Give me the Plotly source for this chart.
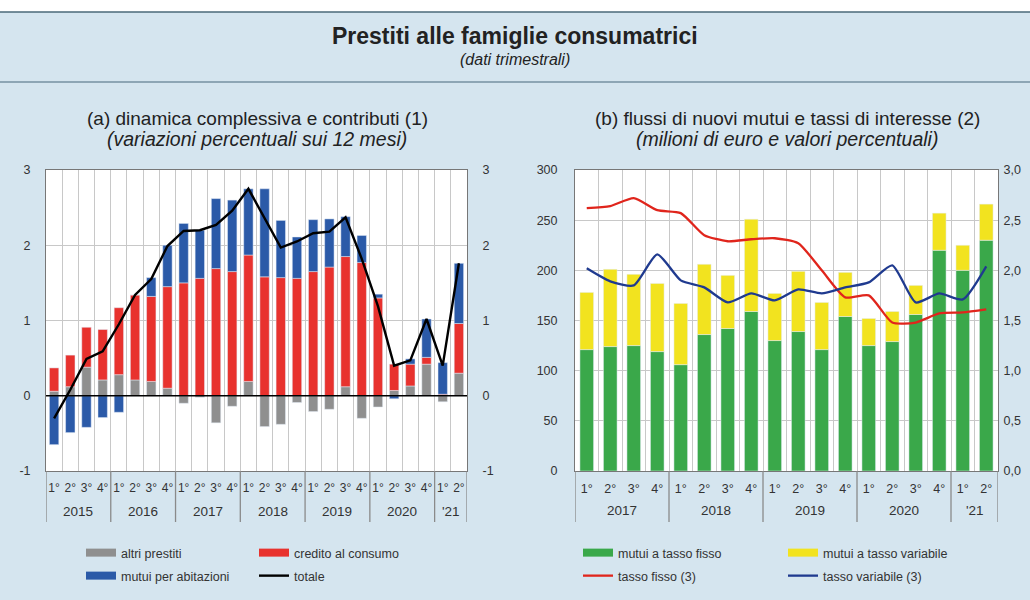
import plotly.graph_objects as go

# ---------------- data: panel (a) ----------------
years_a = ["2015", "2016", "2017", "2018", "2019", "2020", "'21"]
nq_a = [4, 4, 4, 4, 4, 4, 2]
quarter_labels = ["1°", "2°", "3°", "4°"]
ytick_vals_a = [-1, 0, 1, 2, 3]
ytick_text_a = ["-1", "0", "1", "2", "3"]

altri_prestiti = [0.06, 0.12, 0.38, 0.21, 0.28, 0.21, 0.19, 0.10, -0.10, -0.02, -0.36, -0.14, 0.19,
                  -0.41, -0.38, -0.09, -0.21, -0.18, 0.12, -0.30, -0.15, 0.07, 0.13, 0.42, -0.08, 0.30]
credito_consumo = [0.31, 0.42, 0.53, 0.67, 0.89, 1.13, 1.13, 1.35, 1.50, 1.56, 1.69, 1.65, 1.68,
                   1.58, 1.57, 1.56, 1.65, 1.71, 1.73, 1.77, 1.30, 0.35, 0.29, 0.09, 0.02, 0.66]
mutui_abitazioni = [-0.65, -0.49, -0.42, -0.29, -0.22, 0.00, 0.25, 0.55, 0.79, 0.64, 0.93, 0.95, 0.88,
                    1.17, 0.76, 0.55, 0.69, 0.64, 0.53, 0.36, 0.05, -0.04, 0.07, 0.51, 0.42, 0.80]
totale = [-0.30, 0.08, 0.49, 0.59, 0.95, 1.34, 1.55, 1.99, 2.19, 2.20, 2.27, 2.46, 2.75,
          2.36, 1.97, 2.05, 2.16, 2.18, 2.37, 1.82, 1.19, 0.40, 0.47, 1.02, 0.40, 1.76]

# ---------------- data: panel (b) ----------------
years_b = ["2017", "2018", "2019", "2020", "'21"]
nq_b = [4, 4, 4, 4, 2]

mutui_fisso = [121, 124, 125, 119, 106, 136, 142, 159, 130, 139, 121, 154, 125, 129, 156, 220, 200, 230]
mutui_variabile = [57, 77, 71, 68, 61, 70, 53, 92, 47, 60, 47, 44, 27, 30, 29, 37, 25, 36]
tasso_fisso = [2.62, 2.64, 2.72, 2.60, 2.57, 2.35, 2.29, 2.31, 2.32, 2.27, 2.00, 1.73, 1.75, 1.48,
               1.48, 1.57, 1.58, 1.61]
tasso_variabile = [2.02, 1.89, 1.85, 2.16, 1.90, 1.83, 1.68, 1.77, 1.70, 1.81, 1.77, 1.83, 1.88,
                   2.05, 1.68, 1.77, 1.71, 2.04]


def periods(counts):
    """index positions, quarter labels, year centres and year boundaries"""
    n = sum(counts)
    idx = list(range(n))
    qlab = [quarter_labels[i] for c in counts for i in range(c)]
    centres, bounds, s = [], [], 0
    for c in counts:
        centres.append(s + (c - 1) / 2)
        bounds.append(s - 0.5)
        s += c
    bounds.append(n - 0.5)
    return idx, qlab, centres, bounds


x_a, q_a, yc_a, yb_a = periods(nq_a)
x_b, q_b, yc_b, yb_b = periods(nq_b)

GRAY = "#8f8f8f"
RED = "#e8322e"
BLUE = "#2b5aa8"
GREEN = "#3aa84a"
YELLOW = "#f2e31f"
RLINE = "#e0251c"
BLINE = "#1f3a8f"
BG = "#d5e5ef"
FONT = "Liberation Sans"
TXT = "#333333"
GRID = "#c8c8c8"

fig = go.Figure()

# bars (panel a)
for vals, nm, col in [(altri_prestiti, "altri prestiti", GRAY),
                      (credito_consumo, "credito al consumo", RED),
                      (mutui_abitazioni, "mutui per abitazioni", BLUE)]:
    fig.add_trace(go.Bar(x=x_a, y=vals, name=nm, marker_color=col, showlegend=False,
                         xaxis="x", yaxis="y"))
fig.add_trace(go.Scatter(x=x_a, y=totale, name="totale", mode="lines",
                         line=dict(color="black", width=2.4), showlegend=False,
                         xaxis="x", yaxis="y2"))

# bars (panel b)
for vals, nm, col in [(mutui_fisso, "mutui a tasso fisso", GREEN),
                      (mutui_variabile, "mutui a tasso variabile", YELLOW)]:
    fig.add_trace(go.Bar(x=x_b, y=vals, name=nm, marker_color=col, showlegend=False,
                         xaxis="x2", yaxis="y3"))
fig.add_trace(go.Scatter(x=x_b, y=tasso_fisso, name="tasso fisso (3)", mode="lines",
                         line=dict(color=RLINE, width=2.3, shape="spline", smoothing=0.6),
                         showlegend=False, xaxis="x2", yaxis="y4"))
fig.add_trace(go.Scatter(x=x_b, y=tasso_variabile, name="tasso variabile (3)", mode="lines",
                         line=dict(color=BLINE, width=2.3, shape="spline", smoothing=0.6),
                         showlegend=False, xaxis="x2", yaxis="y4"))

# legend entries (wide swatches like the original)
legend_items = [
    ("altri prestiti", GRAY, 8, "legend", "x", "y"),
    ("credito al consumo", RED, 8, "legend", "x", "y"),
    ("mutui per abitazioni", BLUE, 8, "legend2", "x", "y"),
    ("totale", "black", 2.4, "legend2", "x", "y"),
    ("mutui a tasso fisso", GREEN, 8, "legend3", "x2", "y3"),
    ("mutui a tasso variabile", YELLOW, 8, "legend3", "x2", "y3"),
    ("tasso fisso (3)", RLINE, 2.3, "legend4", "x2", "y3"),
    ("tasso variabile (3)", BLINE, 2.3, "legend4", "x2", "y3"),
]
for nm, col, w, lg, xa, ya in legend_items:
    fig.add_trace(go.Scatter(x=[None], y=[None], mode="lines", name=nm,
                             line=dict(color=col, width=w), legend=lg,
                             xaxis=xa, yaxis=ya, hoverinfo="skip"))

H = 600.0
W = 1030.0
ydom = [(H - 471) / H, (H - 170) / H]


def xaxis_cfg(dom, anchor, idx, qlab, fsize):
    bounds = [i - 0.5 for i in idx] + [idx[-1] + 0.5]
    return dict(domain=dom, anchor=anchor, range=[-0.5, idx[-1] + 0.5],
                tickvals=idx, ticktext=qlab, ticks="outside", ticklen=6,
                tickcolor="rgba(0,0,0,0)", tickfont=dict(family=FONT, size=fsize, color=TXT),
                showgrid=False, zeroline=False, showline=True, linecolor="#777777",
                mirror=True, automargin=False,
                minor=dict(tickvals=bounds, showgrid=True, gridcolor=GRID, gridwidth=1, ticks=""))


ycommon = dict(showline=True, linecolor="#777777", mirror=True, ticks="outside",
               tickcolor="rgba(0,0,0,0)", tickfont=dict(family=FONT, size=12.5, color=TXT),
               automargin=False, zeroline=False)

fig.update_layout(
    width=1030, height=600,
    margin=dict(l=0, r=0, t=0, b=0),
    paper_bgcolor=BG, plot_bgcolor="white",
    barmode="relative", bargap=0.42,
    separators=",.",
    font=dict(family=FONT, color=TXT),
    xaxis=xaxis_cfg([46 / W, 467 / W], "y", x_a, q_a, 12),
    yaxis=dict(domain=ydom, anchor="x", range=[-1, 3], tickvals=ytick_vals_a,
               ticktext=ytick_text_a, showgrid=True, gridcolor=GRID, ticklen=12, **ycommon),
    yaxis2=dict(overlaying="y", side="right", anchor="x", range=[-1, 3], tickvals=ytick_vals_a,
                ticktext=ytick_text_a, showgrid=False, ticklen=12, **ycommon),
    xaxis2=xaxis_cfg([575 / W, 998 / W], "y3", x_b, q_b, 12.5),
    yaxis3=dict(domain=ydom, anchor="x2", range=[0, 300], dtick=50, showgrid=True,
                gridcolor=GRID, ticklen=14, **ycommon),
    yaxis4=dict(overlaying="y3", side="right", anchor="x2", range=[0, 3], dtick=0.5,
                tickformat=".1f", showgrid=False, ticklen=2, **ycommon),
    showlegend=True,
)

# zero line of panel (a)
fig.add_hline(y=0, line=dict(color="black", width=1.5), xref="x", yref="y")

# year labels and year dividers below the category axes
for xref, centres, bounds, labels, ylab in [("x", yc_a, yb_a, years_a, 512),
                                            ("x2", yc_b, yb_b, years_b, 510)]:
    for c, lab in zip(centres, labels):
        fig.add_annotation(text=lab, x=c, y=(H - ylab) / H, xref=xref, yref="paper",
                           showarrow=False, xanchor="center", yanchor="middle",
                           font=dict(family=FONT, size=13.5, color=TXT))
    for b in bounds:
        fig.add_shape(type="line", xref=xref, yref="paper", x0=b, x1=b,
                      y0=(H - 522) / H, y1=(H - 471) / H,
                      line=dict(color="#8a8a8a", width=1.3))

leg = dict(orientation="h", bgcolor="rgba(0,0,0,0)", xanchor="left", yanchor="middle",
           font=dict(family=FONT, size=12.5, color=TXT), itemwidth=30)
fig.update_layout(
    legend=dict(x=81 / W, y=(H - 553) / H, entrywidth=128, **leg),
    legend2=dict(x=81 / W, y=(H - 576) / H, entrywidth=128, **leg),
    legend3=dict(x=578 / W, y=(H - 553) / H, entrywidth=160, **leg),
    legend4=dict(x=578 / W, y=(H - 576) / H, entrywidth=160, **leg),
)

# header band
fig.add_shape(type="rect", xref="paper", yref="paper", x0=0, x1=1, y0=(H - 12) / H, y1=1,
              fillcolor="white", line_width=0, layer="below")
fig.add_shape(type="line", xref="paper", yref="paper", x0=0, x1=1, y0=(H - 12) / H,
              y1=(H - 12) / H, line=dict(color="#4a6878", width=1.5))
fig.add_shape(type="line", xref="paper", yref="paper", x0=0, x1=1, y0=(H - 82) / H,
              y1=(H - 82) / H, line=dict(color="#8ea6b5", width=2))

ann = [
    ("<b>Prestiti alle famiglie consumatrici</b>", 0.5, 36, 23),
    ("<i>(dati trimestrali)</i>", 0.5, 60, 16),
    ("(a) dinamica complessiva e contributi (1)", 257 / W, 118, 19),
    ("<i>(variazioni percentuali sui 12 mesi)</i>", 257 / W, 139, 19.5),
    ("(b) flussi di nuovi mutui e tassi di interesse (2)", 787 / W, 118, 19),
    ("<i>(milioni di euro e valori percentuali)</i>", 787 / W, 139, 19.5),
]
for text, x, ypx, size in ann:
    fig.add_annotation(text=text, x=x, y=(H - ypx) / H, xref="paper", yref="paper",
                       showarrow=False, xanchor="center", yanchor="middle",
                       font=dict(family=FONT, size=size, color="#222222"))

fig.write_html("out.html", config={"displayModeBar": False},
               post_script="document.body.style.margin='0';")
